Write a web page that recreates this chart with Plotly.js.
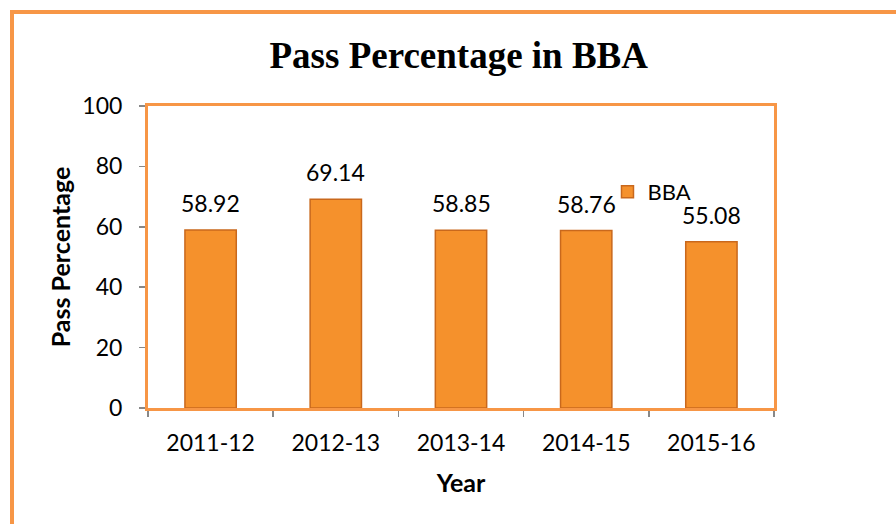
<!DOCTYPE html>
<html>
<head>
<meta charset="utf-8">
<script src="https://cdn.plot.ly/plotly-3.0.1.min.js"></script>
<style>
  html, body { margin:0; padding:0; background:#fff; }
  #wrap { position:relative; width:896px; height:524px; overflow:hidden; }
  #chart { width:896px; height:524px; }
  #frame { position:absolute; left:10px; top:10px; width:1000px; height:1000px;
           border-top:4px solid #F79646; border-left:4px solid #F79646; pointer-events:none; }
</style>
</head>
<body>
<div id="wrap">
  <div id="chart"></div>
  <div id="frame"></div>
</div>
<script>
const years = ["2011-12", "2012-13", "2013-14", "2014-15", "2015-16"];
const passPct = [58.92, 69.14, 58.85, 58.76, 55.08];
const seriesName = "BBA";

const FONT = "Lato, 'Open Sans', sans-serif";

const trace = {
  type: "bar",
  x: years,
  y: passPct,
  name: seriesName,
  marker: { color: "#F5912C", line: { color: "#C9681C", width: 1.5 } },
  showlegend: true,
  hoverinfo: "x+y"
};

const annotations = years.map((c, i) => ({
  x: c, y: passPct[i], xref: "x", yref: "y",
  text: passPct[i].toFixed(2), showarrow: false,
  yanchor: "bottom", yshift: 11,
  font: { family: FONT, size: 23, color: "#000" }
}));

const layout = {
  width: 896, height: 524,
  margin: { l: 148, r: 122, t: 106, b: 116 },
  paper_bgcolor: "#fff", plot_bgcolor: "#fff",
  title: { text: "<b>Pass Percentage in BBA</b>", x: 0.512, xanchor: "center", y: 0.895, yanchor: "middle",
           font: { family: "'Liberation Serif', 'Times New Roman', serif", size: 37, color: "#000" } },
  bargap: 0.59,
  xaxis: {
    type: "category",
    showline: true, linecolor: "#F79646", linewidth: 3, mirror: true,
    ticks: "outside", tickson: "boundaries", ticklen: 6, tickcolor: "#888", tickwidth: 1.5,
    ticklabelstandoff: 12,
    tickfont: { family: FONT, size: 23, color: "#000" },
    title: { text: "<b>Year</b>", font: { family: FONT, size: 25, color: "#000" }, standoff: 20 },
    showgrid: false, zeroline: false
  },
  yaxis: {
    range: [0, 100], dtick: 20,
    showline: true, linecolor: "#F79646", linewidth: 3, mirror: true,
    ticks: "outside", ticklen: 6, tickcolor: "#888", tickwidth: 1.5,
    ticklabelstandoff: 12,
    tickfont: { family: FONT, size: 23, color: "#000" },
    title: { text: "<b>Pass Percentage</b>", font: { family: FONT, size: 25, color: "#000" }, standoff: 5 },
    showgrid: false, zeroline: false
  },
  legend: { x: 0.734, y: 0.715, xanchor: "left", yanchor: "middle",
            bgcolor: "rgba(0,0,0,0)", font: { family: FONT, size: 22, color: "#000" },
            itemwidth: 30 },
  annotations: annotations
};

Plotly.newPlot("chart", [trace], layout, { displayModeBar: false, staticPlot: true });
</script>
</body>
</html>
